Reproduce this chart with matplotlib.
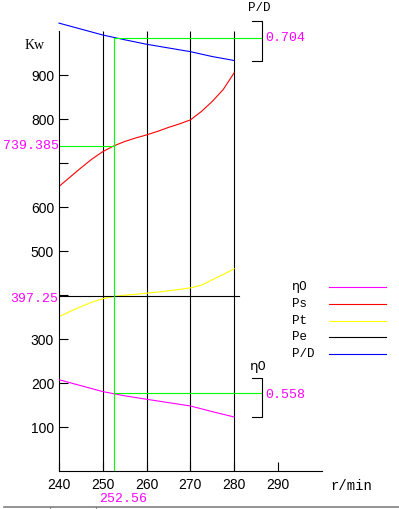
import matplotlib
matplotlib.use('Agg')
import matplotlib.pyplot as plt
from matplotlib.lines import Line2D
import numpy as np

# data
rpm = [240, 245, 250, 255, 260, 265, 270, 275, 280]
eta0 = [0.589, 0.5755, 0.562, 0.5525, 0.5446, 0.537, 0.5294, 0.5165, 0.5044]
pd_ratio = [0.7153, 0.7108, 0.7063, 0.7027, 0.6993, 0.6965, 0.6937, 0.69, 0.687]

rpm_fine = [240, 242.5, 245, 247.5, 250, 252.5, 255, 257.5, 260,
            262.5, 265, 267.5, 270, 272.5, 275, 277.5, 280]
ps = [647, 668, 689, 709, 726, 739, 749, 757, 764,
      772, 781, 789, 798, 817, 840, 867, 905]                     # Kw
pt = [351, 363, 374, 384, 392, 397, 400, 402, 404.5,
      407, 410, 413, 416.6, 422.5, 435, 447, 460]                  # Kw

pe = 397.25
pe_rpm = [240, 281]
n_op = 252.56
ps_op = 739.385
eta_op = 0.558
pd_op = 0.704

grid_rpm = [250, 260, 270, 280]
xticks = [240, 250, 260, 270, 280, 290]
yticks = [100, 200, 300, 400, 500, 600, 700, 800, 900]
ylabels = ['100', '200', '300', '', '500', '600', '', '800', '900']

legend_names = ['η0', 'Ps', 'Pt', 'Pe', 'P/D']
legend_cols = ['#ff00ff', '#ff0000', '#ffff00', '#000000', '#0000ff']

mono = 'Liberation Mono'
sans = 'Liberation Sans'
lw = 0.8

fig = plt.figure(figsize=(3.99, 5.09), dpi=100)
ax = fig.add_axes([59/399, 37.7/509, 262.7/399, 440.3/509])
ax.set_xlim(240, 300)
ax.set_ylim(0, 1000)
for s in ['top', 'right']:
    ax.spines[s].set_visible(False)
for s in ['left', 'bottom']:
    ax.spines[s].set_linewidth(lw)
ax.tick_params(direction='in', length=6.5, width=lw)
ax.tick_params(axis='y', pad=3.5)
ax.tick_params(axis='x', pad=5)
ax.set_xticks(xticks)
ax.set_xticklabels([str(t) for t in xticks], fontfamily=sans, fontsize=10)
ax.set_yticks(yticks)
ax.set_yticklabels(ylabels, fontfamily=sans, fontsize=10)

# twin scales for P/D and eta0 (hidden)
ax_pd = ax.twinx()
ax_pd.set_ylim(pd_op - 984/3000, pd_op + 16/3000)
ax_pd.set_axis_off()
ax_eta = ax.twinx()
ax_eta.set_ylim(eta_op - 177/1000, eta_op + 823/1000)
ax_eta.set_axis_off()

# grid verticals
ax.vlines(grid_rpm, 0, 1000, color='black', lw=lw)

# curves
ax.plot(rpm_fine, ps, color='#ff0000', lw=lw)
ax.plot(rpm_fine, pt, color='#ffff00', lw=lw)
ax.plot(pe_rpm, [pe, pe], color='black', lw=lw)
ax_pd.plot(rpm, pd_ratio, color='#0000ff', lw=lw, clip_on=False)
ax_eta.plot(rpm, eta0, color='#ff00ff', lw=lw)

# operating point lines
green = '#00ff00'
br_x = 286.4
ax.plot([240, n_op], [ps_op, ps_op], color=green, lw=lw)
ax_pd.plot([n_op, n_op], [ax_pd.get_ylim()[0], pd_op], color=green, lw=lw, zorder=1)
ax_pd.plot([n_op, br_x], [pd_op, pd_op], color=green, lw=lw, clip_on=False)
ax_eta.plot([n_op, br_x], [eta_op, eta_op], color=green, lw=lw, clip_on=False)

# brackets
ax_pd.plot([br_x - 2.3, br_x, br_x, br_x - 2.3],
           [max(pd_ratio) + 0.0015, max(pd_ratio) + 0.0015, min(pd_ratio), min(pd_ratio)],
           color='black', lw=lw, clip_on=False)
ax_eta.plot([br_x - 2.3, br_x, br_x, br_x - 2.3],
            [max(eta0) + 0.005, max(eta0) + 0.005, min(eta0), min(eta0)],
            color='black', lw=lw, clip_on=False)

# value labels
mag = '#ff00ff'
ax.text(239.9, ps_op, f'{ps_op}', color=mag, fontfamily=mono, fontsize=9.5,
        ha='right', va='center')
ax.text(239.9, pe - 7, f'{pe}', color=mag, fontfamily=mono, fontsize=9.5,
        ha='right', va='center')
ax_pd.text(br_x + 0.7, pd_op, f'{pd_op}', color=mag, fontfamily=mono, fontsize=9.5,
           ha='left', va='center', clip_on=False)
ax_eta.text(br_x + 0.7, eta_op - 0.003, f'{eta_op}', color=mag, fontfamily=mono,
            fontsize=9.5, ha='left', va='center', clip_on=False)
ax.annotate(f'{n_op}', xy=(n_op, 0), xytext=(9, -28), textcoords='offset pixels',
            color=mag, fontfamily=mono, fontsize=9.5, ha='center', va='center',
            annotation_clip=False)

# axis names
ax.text(240 - 5.7, 968, 'Kw', fontfamily='Liberation Serif', fontsize=10,
        ha='center', va='center')
ax.text(302, -33, 'r/min', fontfamily=mono, fontsize=10, ha='left', va='center',
        clip_on=False)
ax.text(285.7, 1052, 'P/D', fontfamily=mono, fontsize=9, ha='center', va='center',
        clip_on=False)
ax.text(285.5, 237, 'η0', fontfamily='DejaVu Sans', fontsize=9.5, ha='center',
        va='center', clip_on=False)

# legend by hand
leg_y = [419, 380, 341.6, 305, 267]
for name, col, yy in zip(legend_names, legend_cols, leg_y):
    fam = 'DejaVu Sans' if name == 'η0' else mono
    ax.text(293.2, yy, name, fontfamily=fam, fontsize=9, ha='left', va='center',
            clip_on=False)
    ax.plot([301.6, 314.8], [yy, yy], color=col, lw=lw, clip_on=False)

# grey strip at the bottom edge
fig.add_artist(Line2D([4/399, 1], [2.3/509, 2.3/509], color='#808080', lw=1.2))
for xp in [50, 96]:
    fig.add_artist(Line2D([xp/399, xp/399], [0, 2.3/509], color='#808080', lw=0.8))

fig.savefig('out.png', dpi=100)
